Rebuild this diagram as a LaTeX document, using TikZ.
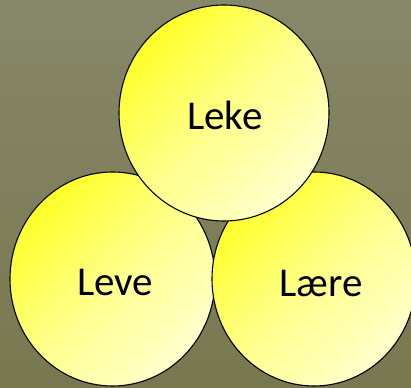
\documentclass[tikz,border=0pt]{standalone}
\usepackage{fontspec}
\setmainfont{Carlito}
\usetikzlibrary{shapes.geometric}
\definecolor{bgtop}{RGB}{135,135,106}
\definecolor{bgbot}{RGB}{120,120,80}
\definecolor{sunA}{RGB}{255,255,40}
\definecolor{sunB}{RGB}{255,255,205}
\tikzset{
  ball/.style={ellipse, draw=black, line width=1.1pt, inner sep=0pt,
    top color=sunA, bottom color=sunB, middle color=sunA!40!sunB, shading angle=45,
    font=\fontsize{41}{46}\selectfont, text=black, text height=33pt, text depth=0pt},
}
\begin{document}
\begin{tikzpicture}[x=1pt,y=1pt]
\shade[top color=bgtop, bottom color=bgbot] (0,0) rectangle (411,387);
\useasboundingbox (0,0) rectangle (411,387);
\node[ball, minimum width=205pt, minimum height=214pt] (leve) at (112.5,108) {\hspace*{5pt}Leve};
\node[ball, minimum width=204pt, minimum height=214pt, text height=36pt] (laere) at (314,108) {\hspace*{14pt}Lære};
\node[ball, minimum width=210pt, minimum height=216pt, text height=34pt] (leke) at (224,274) {\hspace*{2pt}Leke};
\end{tikzpicture}
\end{document}
